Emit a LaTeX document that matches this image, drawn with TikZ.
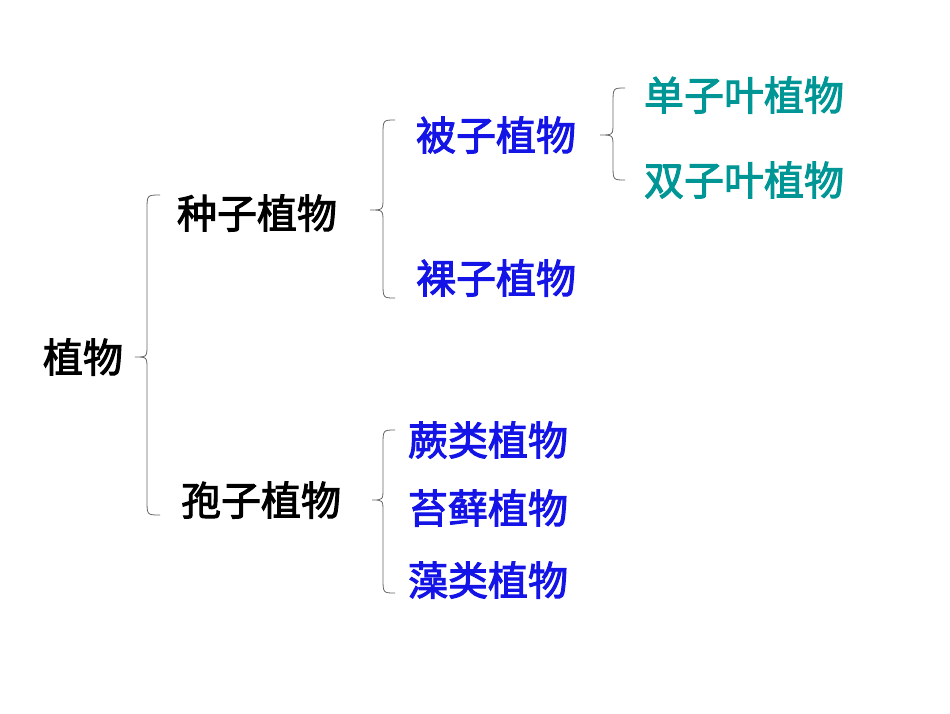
\documentclass[tikz,border=0pt]{standalone}
\usepackage{fontspec}
\newfontfamily\cjk[AutoFakeBold=2.5]{Noto Sans CJK SC}
\definecolor{tblue}{RGB}{20,20,230}
\definecolor{tteal}{RGB}{0,150,150}
\newcommand\mybrace[6]{% ya yb ym xs xe xt
  \draw[brc] (#5,#1) .. controls (#4,#1) .. (#4,#1+15) -- (#4,#3-12) .. controls (#4,#3) .. (#6,#3)
   .. controls (#4,#3) .. (#4,#3+12) -- (#4,#2-15) .. controls (#4,#2) .. (#5,#2);}
\begin{document}
\begin{tikzpicture}[x=1pt,y=-1pt,
  lbl/.style={font=\cjk\bfseries\fontsize{40}{44}\selectfont,inner sep=0pt},
  brc/.style={draw=gray!80!black,line width=0.8pt}]
\useasboundingbox (0,0) rectangle (950,713);
\node[lbl] (root) at (83,357) {植物};
\node[lbl] (seed) at (257,213) {种子植物};
\node[lbl] (spore) at (261,500) {孢子植物};
\node[lbl,tblue] (angio) at (496,135) {被子植物};
\node[lbl,tblue] (gymno) at (496,278) {裸子植物};
\node[lbl,tteal] (mono) at (744,95) {单子叶植物};
\node[lbl,tteal] (di) at (744,180) {双子叶植物};
\node[lbl,tblue] (fern) at (488,440) {蕨类植物};
\node[lbl,tblue] (moss) at (488,508) {苔藓植物};
\node[lbl,tblue] (alga) at (488,580) {藻类植物};
\mybrace{195}{515}{357}{147}{160}{135}
\mybrace{120}{298}{210}{383}{395}{370}
\mybrace{430}{593}{500}{383}{395}{372}
\mybrace{88}{180}{135}{613}{625}{600}
\end{tikzpicture}
\end{document}
